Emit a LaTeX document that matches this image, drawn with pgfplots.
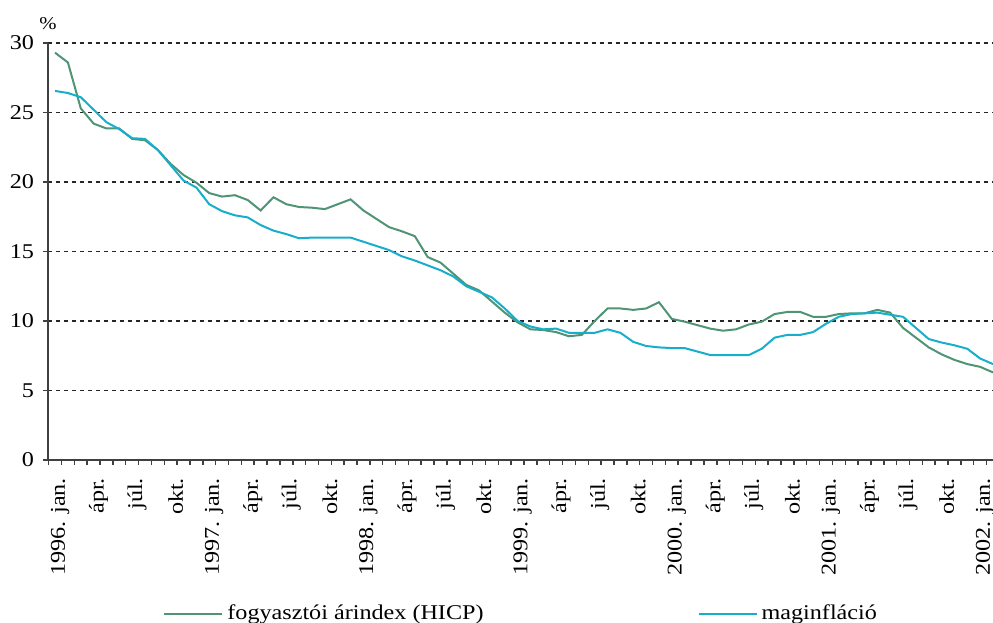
\documentclass[border=0pt]{standalone}
\usepackage{fontspec}
\setmainfont{Liberation Serif}[FakeStretch=1.15]
\usepackage{pgfplots}
\usepackage{pgfplotstable}
\pgfplotsset{compat=1.18}
\definecolor{hicp}{HTML}{4F9474}
\definecolor{mag}{HTML}{17AECB}
\pgfplotstableread{
m hicp mag
0 29.3 26.55
1 28.6 26.4
2 25.3 26.1
3 24.2 25.2
4 23.85 24.3
5 23.85 23.8
6 23.1 23.15
7 23.0 23.1
8 22.3 22.3
9 21.3 21.2
10 20.5 20.1
11 19.95 19.6
12 19.2 18.4
13 18.95 17.9
14 19.05 17.6
15 18.7 17.45
16 17.95 16.9
17 18.9 16.5
18 18.4 16.25
19 18.2 15.95
20 18.15 16.0
21 18.05 16.0
22 18.4 16.0
23 18.75 16.0
24 17.95 15.7
25 17.35 15.4
26 16.75 15.1
27 16.45 14.65
28 16.1 14.35
29 14.6 14.0
30 14.2 13.65
31 13.4 13.2
32 12.6 12.5
33 12.2 12.1
34 11.4 11.7
35 10.6 10.9
36 9.9 10.0
37 9.4 9.6
38 9.35 9.4
39 9.2 9.45
40 8.9 9.15
41 9.0 9.15
42 10.0 9.15
43 10.9 9.4
44 10.9 9.15
45 10.8 8.5
46 10.9 8.2
47 11.35 8.1
48 10.15 8.05
49 9.95 8.05
50 9.7 7.8
51 9.45 7.55
52 9.3 7.55
53 9.4 7.55
54 9.75 7.55
55 9.95 8.0
56 10.5 8.8
57 10.65 9.0
58 10.65 9.0
59 10.3 9.2
60 10.3 9.8
61 10.5 10.3
62 10.55 10.5
63 10.55 10.55
64 10.8 10.6
65 10.6 10.45
66 9.5 10.3
67 8.8 9.5
68 8.1 8.7
69 7.6 8.45
70 7.2 8.25
71 6.9 8.0
72 6.7 7.3
73 6.3 6.9
}\datatable
\begin{document}
\begin{tikzpicture}
\begin{axis}[name=ax, scale only axis, width=472.5pt, height=208.5pt,
  xmin=-0.55, xmax=73, ymin=0, ymax=30, clip=false,
  axis x line*=bottom, axis y line*=left,
  axis line style={draw=black!75, line width=0.75pt},
  tick align=outside, major tick length=0pt, minor tick length=2.6pt,
  every tick/.style={draw=black!75, line width=0.75pt},
  ytick={0,5,...,30}, minor ytick={0,5,...,30},
  xtick={0,3,...,72}, minor xtick={-0.5,0.5,...,72.5},
  xticklabels={1996. jan.,ápr.,júl.,okt.,1997. jan.,ápr.,júl.,okt.,1998. jan.,ápr.,júl.,okt.,1999. jan.,ápr.,júl.,okt.,2000. jan.,ápr.,júl.,okt.,2001. jan.,ápr.,júl.,okt.,2002. jan.},
  ymajorgrids, major grid style={black!85, line width=0.7pt, dash pattern=on 2pt off 2pt},
  /pgf/number format/assume math mode=true,
  yticklabel style={font=\fontsize{10.5}{12}\selectfont, xshift=-3.5pt},
  xticklabel style={font=\fontsize{10.5}{12}\selectfont, xshift=2.5pt, yshift=-5.5pt, rotate=90, anchor=east},
  legend columns=2,
  legend style={at={(0.1217,-0.369)}, anchor=west, draw=none, fill=none, inner sep=0pt,
    font=\fontsize{10.5}{12}\selectfont,
    /tikz/every even column/.append style={column sep=105pt}},
  legend image code/.code={\draw[#1] (0pt,0pt) -- (29pt,0pt);},
]
\addplot[hicp, line width=1pt] table[x=m, y=hicp] {\datatable};
\addlegendentry{fogyasztói árindex (HICP)}
\addplot[mag, line width=1pt] table[x=m, y=mag] {\datatable};
\addlegendentry{maginfláció}
\node[font=\fontsize{9}{10}\selectfont] at (rel axis cs:0,1) [yshift=9.5pt] {\%};
\end{axis}
\pgfresetboundingbox
\path[use as bounding box] ([xshift=-24pt,yshift=-81.5pt]ax.south west) rectangle ([yshift=21.5pt]ax.north east);
\end{tikzpicture}
\end{document}
